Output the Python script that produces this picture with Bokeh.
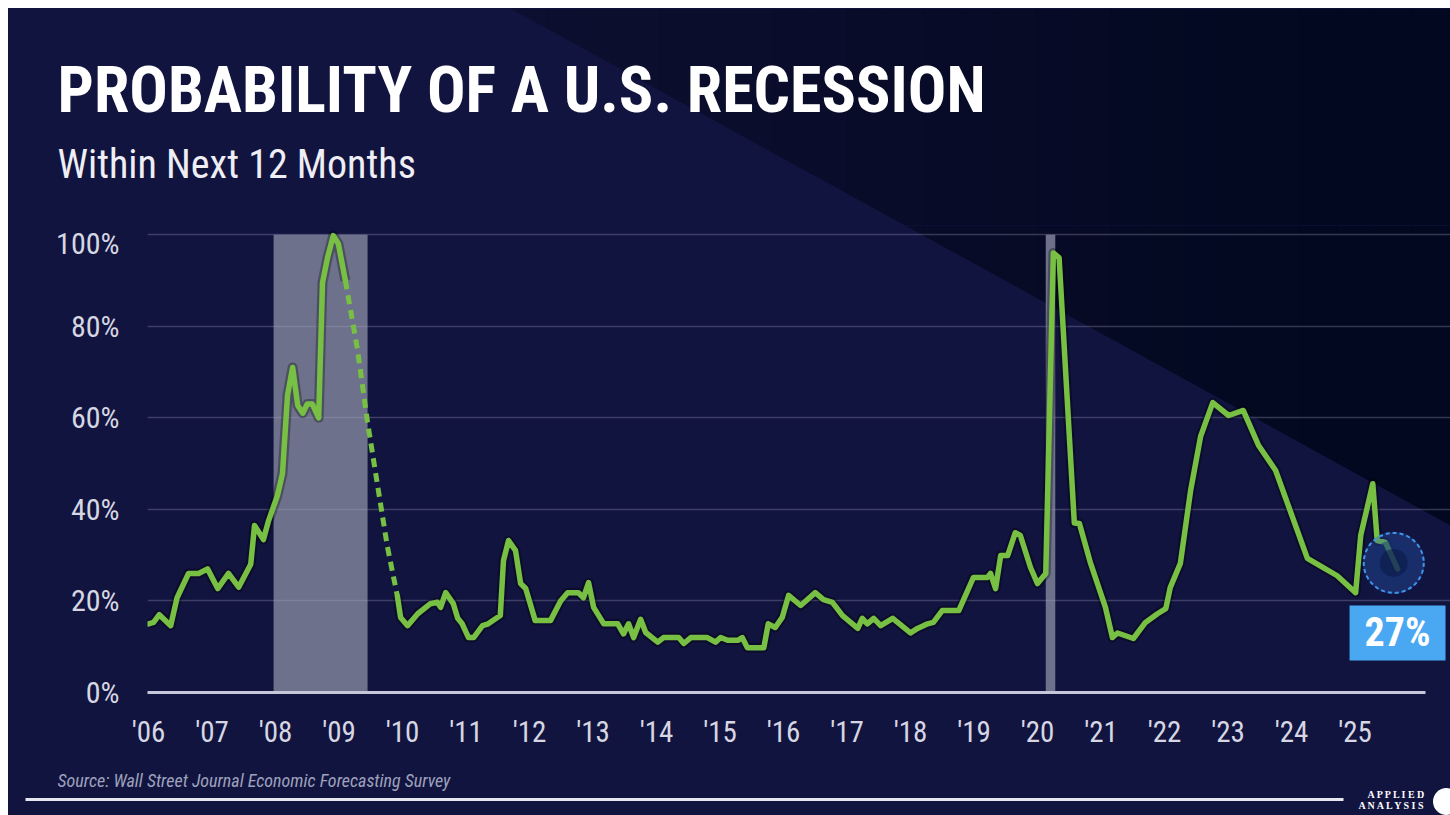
import subprocess
import numpy as np
from bokeh.plotting import figure
from bokeh.layouts import column, row
from bokeh.models import Range1d, FixedTicker, BoxAnnotation, Label, Spacer
from bokeh.embed import file_html
from bokeh.resources import INLINE

# ---------------- data ----------------
dates = [2006.00, 2006.08, 2006.17, 2006.35, 2006.45, 2006.63, 2006.79, 2006.93,
         2007.09, 2007.26, 2007.42, 2007.61, 2007.67, 2007.81, 2007.89, 2008.03,
         2008.11, 2008.19, 2008.27, 2008.35, 2008.43, 2008.50, 2008.58, 2008.68,
         2008.74, 2008.82, 2008.91, 2008.99, 2009.10, 2009.50, 2009.92, 2009.97,
         2010.08, 2010.24, 2010.44, 2010.55, 2010.60, 2010.68, 2010.80, 2010.87,
         2010.94, 2011.04, 2011.12, 2011.26, 2011.35, 2011.54, 2011.59, 2011.67,
         2011.78, 2011.86, 2011.94, 2012.09, 2012.33, 2012.49, 2012.60, 2012.77,
         2012.85, 2012.93, 2013.01, 2013.17, 2013.39, 2013.48, 2013.56, 2013.64,
         2013.75, 2013.83, 2014.02, 2014.11, 2014.35, 2014.43, 2014.54, 2014.80,
         2014.93, 2015.01, 2015.12, 2015.28, 2015.35, 2015.43, 2015.69, 2015.76,
         2015.87, 2015.98, 2016.08, 2016.27, 2016.50, 2016.63, 2016.77, 2016.93,
         2017.17, 2017.24, 2017.32, 2017.42, 2017.53, 2017.72, 2018.00, 2018.11,
         2018.27, 2018.36, 2018.50, 2018.76, 2018.99, 2019.21, 2019.26, 2019.34,
         2019.42, 2019.53, 2019.65, 2019.73, 2019.89, 2020.00, 2020.13, 2020.25,
         2020.34, 2020.58, 2020.66, 2020.83, 2021.07, 2021.18, 2021.26, 2021.51,
         2021.70, 2021.89, 2022.02, 2022.09, 2022.25, 2022.41, 2022.57, 2022.76,
         2023.01, 2023.24, 2023.48, 2023.75, 2024.25, 2024.50, 2024.72, 2025.01,
         2025.09, 2025.28, 2025.35, 2025.48, 2025.67]
probs = [15, 15.3, 17, 14.6, 20.7, 26, 26, 27,
         22.7, 26, 23, 28, 36.5, 33.4, 37.5, 43,
         47.8, 65, 71, 62.7, 61, 63, 63, 60,
         89.5, 95, 99.8, 98, 90, float("nan"), 21, 16.4,
         14.6, 17.2, 19.4, 19.7, 18.6, 21.8, 19.4, 16.2,
         15, 12, 12, 14.6, 15, 16.8, 28.8, 33.2,
         31, 23.8, 22.7, 15.7, 15.7, 20, 21.8, 21.8,
         20.7, 24, 18.6, 15, 15, 12.8, 15, 12,
         16, 13.1, 11, 12, 12, 10.7, 12, 12,
         11, 12, 11.4, 11.4, 12, 9.8, 9.8, 15,
         14.2, 16.4, 21.2, 19, 21.8, 20.3, 19.7, 16.8,
         14, 16.2, 15, 16.2, 14.6, 16.2, 13, 14,
         15, 15.3, 17.9, 17.9, 25.1, 25.1, 26, 22.7,
         29.9, 29.9, 34.9, 34.3, 27.3, 23.8, 26, 96,
         95, 37, 36.9, 28.5, 18.6, 12, 13, 11.8,
         15.3, 17.2, 18.3, 22.9, 28.2, 44, 56, 63.3,
         60.5, 61.6, 54, 48.5, 29.3, 27.3, 25.5, 21.8,
         34.3, 45.6, 33.2, 32.8, 27]
# survey gap in 2009, drawn dashed
gap_dates = [2009.10, 2009.29, 2009.45, 2009.61, 2009.76, 2009.92]
gap_probs = [90, 75, 59, 45, 32, 21]
# recessions (shaded)
rec_start = [2007.97, 2020.13]
rec_end = [2009.45, 2020.28]
y_ticks = [0, 20, 40, 60, 80, 100]
y_labels = ["0%", "20%", "40%", "60%", "80%", "100%"]
x_ticks = list(range(2006, 2026))
x_labels = ["'06", "'07", "'08", "'09", "'10", "'11", "'12", "'13", "'14", "'15",
            "'16", "'17", "'18", "'19", "'20", "'21", "'22", "'23", "'24", "'25"]
title_text = "PROBABILITY OF A U.S. RECESSION"
subtitle_text = "Within Next 12 Months"
source_text = "Source: Wall Street Journal Economic Forecasting Survey"
latest_text = "27%"

# ---------------- fonts ----------------
try:
    fams = subprocess.run(["fc-list", ":", "family"], capture_output=True, text=True).stdout
except Exception:
    fams = ""


def pick(*names):
    for n in names:
        if n in fams:
            return n
    return names[-1]


COND = pick("Roboto Condensed", "Liberation Sans Narrow", "DejaVu Sans Condensed", "Roboto")

# ---------------- layout (page pixel geometry) ----------------
X0, Y0, XR, YB = 8, 8, 1450, 815        # coloured area on the page
HEAD_B = 225                             # header bottom = plot frame top
FR_L, FR_B = 147, 692                    # plot frame left / bottom (0 %)
MAIN_B = 760                             # bottom of the axis panel
WID = XR - X0
BG = "#121440"
PXY = 63.5                               # px per year
PXV = (FR_B - HEAD_B) / 102.0            # px per percentage point


def dx(px):
    return 2006 + (px - 148) / PXY


def dy(py):
    return (FR_B - py) / PXV


def diag(x):
    return 250 + 0.55 * (x - 950)


def xdiag(y):
    return 950 + (y - 250) / 0.55


# dark top-right region, darkening towards the right (vertical bands)
x_start = xdiag(Y0)
edges = np.linspace(x_start, XR, 26)
c0, c1 = np.array([13, 15, 48]), np.array([2, 8, 31])
band_xs, band_ys, band_cols = [], [], []
for i in range(len(edges) - 1):
    xa = max(x_start, edges[i] - 1.5)
    xb = edges[i + 1]
    band_xs.append([xa, xb, xb, xa])
    band_ys.append([Y0, Y0, diag(xb), max(Y0, diag(xa))])
    t = i / (len(edges) - 2)
    c = (c0 + (c1 - c0) * t).astype(int)
    band_cols.append("#%02x%02x%02x" % tuple(c))


def panel(height, y_top, y_bot):
    f = figure(width=WID, height=height, output_backend="svg", toolbar_location=None,
               x_range=Range1d(X0, XR), y_range=Range1d(y_bot, y_top),
               x_axis_location=None, y_axis_location=None, min_border=0,
               border_fill_color=BG, background_fill_color=BG, outline_line_color=None,
               frame_align=False)
    f.xgrid.grid_line_color = None
    f.ygrid.grid_line_color = None
    return f


# ---------------- header ----------------
head = panel(HEAD_B - Y0, Y0, HEAD_B)
head.patches(band_xs, band_ys, fill_color=band_cols, line_color=None)
head.add_layout(Label(x=57, y=90, text=title_text, text_font=COND, text_font_style="bold",
                      text_font_size="64px", text_color="white", text_baseline="alphabetic"))
head.add_layout(Label(x=57, y=164, text=subtitle_text, text_font=COND,
                      text_font_size="40px", text_color="#eeeef4", text_baseline="alphabetic"))

# ---------------- main chart ----------------
p = figure(width=WID, height=MAIN_B - HEAD_B, output_backend="svg", toolbar_location=None,
           x_range=Range1d(dx(FR_L), dx(XR)), y_range=Range1d(0, 102),
           min_border_left=FR_L - X0, min_border_right=0, min_border_top=0,
           min_border_bottom=MAIN_B - FR_B, frame_align=False,
           border_fill_color=BG, background_fill_color=BG, outline_line_color=None)

p.patches([[dx(v) for v in xs] for xs in band_xs], [[dy(v) for v in ys] for ys in band_ys],
          fill_color=band_cols, line_color=None, level="image")
for s, e in zip(rec_start, rec_end):
    p.add_layout(BoxAnnotation(left=s, right=e, bottom=0, top=100, fill_color="#74768f",
                               fill_alpha=0.95, line_color=None, level="image"))

p.xgrid.grid_line_color = None
p.ygrid.grid_line_color = "#a4a6c4"
p.ygrid.grid_line_alpha = 0.3
p.ygrid.grid_line_width = 1.5

p.yaxis.ticker = FixedTicker(ticks=y_ticks)
p.yaxis.major_label_overrides = dict(zip(y_ticks, y_labels))
p.yaxis.axis_line_color = None
p.yaxis.major_tick_line_color = None
p.yaxis.minor_tick_line_color = None
p.yaxis.major_label_standoff = 22
p.yaxis.major_label_text_font = COND
p.yaxis.major_label_text_font_size = "30px"
p.yaxis.major_label_text_color = "#d6d7e2"

p.xaxis.ticker = FixedTicker(ticks=x_ticks)
p.xaxis.major_label_overrides = dict(zip(x_ticks, x_labels))
p.xaxis.bounds = (dx(FR_L), dx(1425))
p.xaxis.axis_line_color = "#c5c6d8"
p.xaxis.axis_line_width = 3
p.xaxis.major_tick_line_color = None
p.xaxis.minor_tick_line_color = None
p.xaxis.major_label_standoff = 16
p.xaxis.major_label_text_font = COND
p.xaxis.major_label_text_font_size = "29px"
p.xaxis.major_label_text_color = "#d6d7e2"

GREEN = "#78c043"
p.line(dates, probs, line_color="#000000", line_alpha=0.3, line_width=10, line_join="round")
p.line(gap_dates, gap_probs, line_color=GREEN, line_width=5, line_dash="9 6")
p.line(dates, probs, line_color=GREEN, line_width=5.5, line_join="round", line_cap="round")

cx, cy = dates[-1] - 0.06, probs[-1] + 1.3
p.scatter([cx], [cy], size=62, fill_color="#2c5cb4", fill_alpha=0.35, line_color=None)
p.scatter([cx], [cy], size=46, fill_color="#15306e", fill_alpha=0.45, line_color=None)
p.scatter([cx], [cy], size=28, fill_color="#0a1540", fill_alpha=0.5, line_color=None)
p.scatter([cx], [cy], size=60, fill_color=None, line_color="#3f95ea", line_width=2,
          line_dash="4 3")

p.add_layout(Label(x=dates[-1], y=probs[-1], y_offset=-64, text=latest_text,
                   text_align="center", text_baseline="middle", text_font=COND,
                   text_font_style="bold", text_font_size="40px", text_color="white",
                   background_fill_color="#4aa8f2", background_fill_alpha=1,
                   padding=dict(left=15, right=15, top=4, bottom=4)))

# ---------------- footer ----------------
foot = panel(YB - MAIN_B, MAIN_B, YB)
foot.add_layout(Label(x=57, y=780, text=source_text, text_font=COND, text_font_style="italic",
                      text_font_size="18px", text_color="#9ea2bc", text_baseline="alphabetic"))
foot.line([25, 1343], [799, 799], line_color="#e6e6ee", line_width=3)
foot.add_layout(Label(x=1426, y=794, text="A P P L I E D", text_font="Liberation Serif",
                      text_font_style="bold", text_font_size="10px", text_color="white",
                      text_align="right", text_baseline="alphabetic"))
foot.add_layout(Label(x=1426, y=805, text="A N A L Y S I S", text_font="Liberation Serif",
                      text_font_style="bold", text_font_size="10px", text_color="white",
                      text_align="right", text_baseline="alphabetic"))
foot.scatter([1446], [801], size=27, fill_color="white", line_color=None)

body = column(head, p, foot, spacing=0, styles={"background-color": BG})
layout = column(Spacer(width=XR, height=Y0),
                row(Spacer(width=X0, height=YB - Y0), body, spacing=0),
                spacing=0)

open("out.html", "w").write(file_html(layout, INLINE))
